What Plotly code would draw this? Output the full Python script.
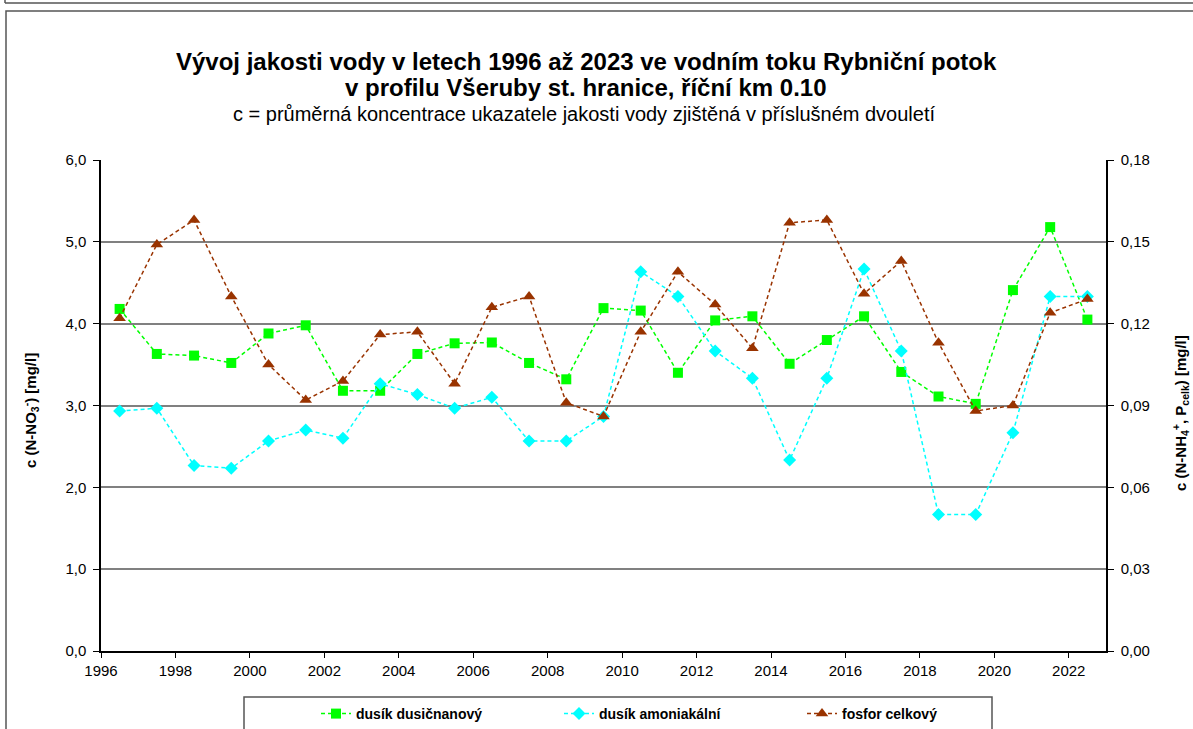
import plotly.graph_objects as go

# roky - střed dvouletí
roky = [1996.5 + i for i in range(27)]

dusik_dusicnanovy = [4.18, 3.63, 3.61, 3.52, 3.88, 3.98, 3.18, 3.18, 3.63, 3.76,
                     3.77, 3.52, 3.32, 4.19, 4.16, 3.40, 4.04, 4.09, 3.51, 3.80,
                     4.09, 3.41, 3.11, 3.02, 4.41, 5.18, 4.05]
dusik_amoniakalni = [0.088, 0.089, 0.068, 0.067, 0.077, 0.081, 0.078, 0.098, 0.094, 0.089,
                     0.093, 0.077, 0.077, 0.086, 0.139, 0.130, 0.110, 0.100, 0.070, 0.100,
                     0.140, 0.110, 0.050, 0.050, 0.080, 0.130, 0.130]
fosfor_celkovy = [0.122, 0.149, 0.158, 0.130, 0.105, 0.092, 0.099, 0.116, 0.117, 0.098,
                  0.126, 0.130, 0.091, 0.086, 0.117, 0.139, 0.127, 0.111, 0.157, 0.158,
                  0.131, 0.143, 0.113, 0.088, 0.090, 0.124, 0.129]

W, H = 1193, 729
L, R, T, B = 101, 1106, 160, 651   # poloha plochy grafu
FONT = "Arial, Liberation Sans, sans-serif"


def px(x):
    return (x - L) / (R - L)


def py(y):
    return (B - y) / (B - T)


fig = go.Figure()
fig.add_trace(go.Scatter(
    x=roky, y=dusik_dusicnanovy, name="dusík dusičnanový", yaxis="y",
    mode="lines+markers",
    line=dict(color="#00ff00", width=1.5, dash="4px,3px"),
    marker=dict(symbol="square", size=10, color="#00ff00")))
fig.add_trace(go.Scatter(
    x=roky, y=dusik_amoniakalni, name="dusík amoniakální", yaxis="y2",
    mode="lines+markers",
    line=dict(color="#00ffff", width=1.5, dash="4px,3px"),
    marker=dict(symbol="diamond", size=10, color="#00ffff")))
fig.add_trace(go.Scatter(
    x=roky, y=fosfor_celkovy, name="fosfor celkový", yaxis="y2",
    mode="lines+markers",
    line=dict(color="#993300", width=1.5, dash="4px,3px"),
    marker=dict(symbol="triangle-up", size=11, color="#993300")))

fig.update_layout(
    width=W, height=H,
    margin=dict(l=L, r=W - R, t=T, b=H - B, autoexpand=False),
    paper_bgcolor="white", plot_bgcolor="white",
    separators=", ",
    font=dict(family=FONT, color="black", size=15),
    showlegend=True,
    legend=dict(orientation="h", x=px(316), y=py(698), xanchor="left", yanchor="top",
                font=dict(size=14, family=FONT, weight="bold"),
                entrywidth=198, entrywidthmode="pixels",
                bgcolor="rgba(0,0,0,0)", borderwidth=0),
    xaxis=dict(range=[1996, 2023], tick0=1996, dtick=2, showgrid=False,
               showline=True, linecolor="black", linewidth=1.5,
               ticks="outside", ticklen=5, tickcolor="black",
               tickfont=dict(size=15), zeroline=False, automargin=False),
    yaxis=dict(range=[0, 6], dtick=1, tickformat=".1f",
               showgrid=True, gridcolor="#808080", gridwidth=2,
               showline=True, linecolor="black", linewidth=1.5,
               ticks="outside", ticklen=6, tickcolor="black", ticklabelstandoff=4,
               zeroline=False, tickfont=dict(size=15), automargin=False),
    yaxis2=dict(range=[0, 0.18], dtick=0.03, tickformat=".2f", overlaying="y",
                side="right", showgrid=False,
                showline=True, linecolor="black", linewidth=1.5,
                ticks="outside", ticklen=6, tickcolor="black", ticklabelstandoff=4,
                zeroline=False, tickfont=dict(size=15), automargin=False),
    annotations=[
        dict(text="<b>Vývoj jakosti vody v letech 1996 až 2023 ve vodním toku Rybniční potok</b>",
             xref="paper", yref="paper", x=px(586), y=py(62), showarrow=False,
             font=dict(size=24), xanchor="center", yanchor="middle"),
        dict(text="<b>v profilu Všeruby st. hranice, říční km 0.10</b>",
             xref="paper", yref="paper", x=px(586), y=py(88), showarrow=False,
             font=dict(size=24), xanchor="center", yanchor="middle"),
        dict(text="c = průměrná koncentrace ukazatele jakosti vody zjištěná v příslušném dvouletí",
             xref="paper", yref="paper", x=px(584), y=py(114), showarrow=False,
             font=dict(size=20), xanchor="center", yanchor="middle"),
        # popisky os
        dict(text="<b>c (N-NO<sub>3</sub><sup>-</sup>) [mg/l]</b>",
             xref="paper", yref="paper", x=px(30), y=py(411), showarrow=False,
             textangle=-90, font=dict(size=15), xanchor="center", yanchor="middle"),
        dict(text="<b>c (N-NH<sub>4</sub><sup>+</sup>, P<sub>celk</sub>) [mg/l]</b>",
             xref="paper", yref="paper", x=px(1180), y=py(413), showarrow=False,
             textangle=-90, font=dict(size=15), xanchor="center", yanchor="middle"),
    ],
    shapes=[
        # ramecek grafu
        dict(type="rect", xref="paper", yref="paper", x0=px(6), x1=px(1240),
             y0=py(760), y1=py(11), line=dict(color="#555555", width=1.5)),
        dict(type="line", xref="paper", yref="paper", x0=px(5), x1=px(1240),
             y0=py(3), y1=py(3), line=dict(color="#555555", width=1.5)),
        dict(type="line", xref="paper", yref="paper", x0=px(5), x1=px(5),
             y0=py(3), y1=py(-5), line=dict(color="#555555", width=1.5)),
        # ramecek legendy
        dict(type="rect", xref="paper", yref="paper", x0=px(244), x1=px(992),
             y0=py(760), y1=py(697), line=dict(color="#555555", width=1.5)),
    ],
)

# bez okraje stránky, aby graf začínal v levém horním rohu
fig.write_html("out.html", config={"displayModeBar": False},
               post_script="document.body.style.margin = '0';")
